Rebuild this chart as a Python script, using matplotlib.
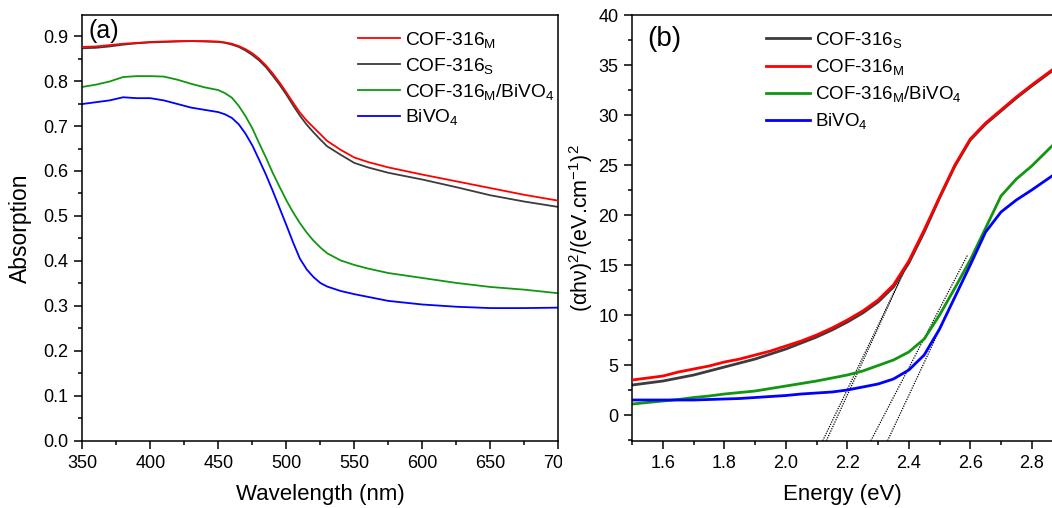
import matplotlib
matplotlib.use("Agg")
import matplotlib.pyplot as plt
from matplotlib.patches import Rectangle
from matplotlib.ticker import MultipleLocator, FormatStrFormatter
import numpy as np

plt.rcParams['font.family'] = ['Liberation Sans', 'DejaVu Sans']
plt.rcParams['mathtext.fontset'] = 'custom'
plt.rcParams['mathtext.rm'] = 'Liberation Sans'
plt.rcParams['mathtext.it'] = 'Liberation Sans:italic'
plt.rcParams['mathtext.bf'] = 'Liberation Sans:bold'

# ---------------- (a) UV-vis absorption spectra ----------------
wavelength = [350, 360, 370, 380, 390, 400, 410, 420, 430, 440, 450, 455, 460, 465,
              470, 475, 480, 485, 490, 495, 500, 505, 510, 515, 520, 525, 530, 540,
              550, 560, 575, 600, 625, 650, 675, 700]
abs_cof_m = [0.876, 0.877, 0.880, 0.883, 0.885, 0.887, 0.888, 0.889, 0.889, 0.889,
             0.888, 0.886, 0.883, 0.878, 0.871, 0.862, 0.850, 0.835, 0.817, 0.797,
             0.775, 0.752, 0.730, 0.712, 0.697, 0.682, 0.667, 0.647, 0.630, 0.620,
             0.608, 0.592, 0.577, 0.562, 0.547, 0.534]
abs_cof_s = [0.873, 0.874, 0.877, 0.881, 0.884, 0.886, 0.887, 0.888, 0.889, 0.888,
             0.887, 0.885, 0.881, 0.876, 0.868, 0.858, 0.846, 0.831, 0.812, 0.792,
             0.770, 0.746, 0.723, 0.703, 0.686, 0.670, 0.655, 0.636, 0.618, 0.608,
             0.596, 0.581, 0.564, 0.546, 0.532, 0.520]
abs_cof_m_bivo4 = [0.787, 0.792, 0.799, 0.809, 0.811, 0.811, 0.810, 0.803, 0.794, 0.786,
                   0.780, 0.773, 0.763, 0.745, 0.722, 0.695, 0.662, 0.630, 0.596, 0.565,
                   0.535, 0.508, 0.484, 0.463, 0.445, 0.430, 0.417, 0.401, 0.391, 0.383,
                   0.373, 0.362, 0.351, 0.342, 0.336, 0.328]
abs_bivo4 = [0.749, 0.753, 0.757, 0.764, 0.762, 0.762, 0.757, 0.749, 0.741, 0.736,
             0.731, 0.726, 0.718, 0.704, 0.683, 0.657, 0.625, 0.592, 0.556, 0.518,
             0.480, 0.441, 0.405, 0.381, 0.364, 0.351, 0.343, 0.333, 0.326, 0.320,
             0.311, 0.303, 0.298, 0.295, 0.295, 0.296]

# ---------------- (b) Tauc plots ----------------
energy = [1.50, 1.55, 1.60, 1.65, 1.70, 1.75, 1.80, 1.85, 1.90, 1.95, 2.00, 2.05, 2.10,
          2.15, 2.20, 2.25, 2.30, 2.35, 2.40, 2.45, 2.50, 2.55, 2.60, 2.65, 2.70, 2.75,
          2.80, 2.866]
tauc_cof_s = [3.0, 3.2, 3.4, 3.7, 4.0, 4.4, 4.8, 5.2, 5.6, 6.1, 6.6, 7.2, 7.8, 8.5, 9.3,
              10.2, 11.3, 12.8, 15.2, 18.3, 21.7, 24.9, 27.5, 29.1, 30.4, 31.7, 32.9, 34.4]
tauc_cof_m = [3.5, 3.7, 3.9, 4.3, 4.6, 4.9, 5.3, 5.6, 6.0, 6.4, 6.9, 7.4, 8.0, 8.7, 9.5,
              10.4, 11.5, 13.0, 15.4, 18.5, 21.8, 25.0, 27.6, 29.2, 30.5, 31.8, 33.0, 34.5]
tauc_cof_m_bivo4 = [1.1, 1.25, 1.4, 1.55, 1.75, 1.9, 2.1, 2.25, 2.4, 2.65, 2.9, 3.15, 3.4,
                    3.7, 4.0, 4.4, 4.95, 5.5, 6.3, 7.6, 10.0, 12.7, 15.5, 18.7, 21.9,
                    23.6, 24.9, 26.9]
tauc_bivo4 = [1.5, 1.5, 1.5, 1.5, 1.5, 1.55, 1.6, 1.65, 1.75, 1.85, 1.95, 2.1, 2.2, 2.3,
              2.5, 2.8, 3.1, 3.6, 4.5, 6.0, 8.6, 11.8, 15.0, 18.3, 20.3, 21.5, 22.5, 23.9]

# Linear extrapolations of the absorption edges: band gap (x-intercept) and slope
gap_energy = [2.16, 2.17, 2.32, 2.37]
gap_slope = [64.0, 67.0, 59.0, 65.6]
gap_top = [16.0, 16.0, 16.0, 16.0]

RED = '#ff0000'
GREY = '#3c3c3c'
GREEN = '#129612'
BLUE = '#0000ff'

W, H = 1052, 508
fig = plt.figure(figsize=(W / 100, H / 100), dpi=100)


def px_axes(x0, x1, ytop, ybot):
    return fig.add_axes([x0 / W, (H - ybot) / H, (x1 - x0) / W, (ybot - ytop) / H])


def style(ax, fs_tick):
    for s in ax.spines.values():
        s.set_linewidth(1.1)
    ax.tick_params(which='both', direction='out', top=False, right=False,
                   labelsize=fs_tick, width=1.1, pad=4)
    ax.tick_params(which='major', length=6)
    ax.tick_params(which='minor', length=3)


# ---- panel (a)
ax1 = px_axes(82.3, 558.3, 15, 440.7)
ax1.plot(wavelength, abs_cof_s, color=GREY, lw=1.3, label='COF-316$_\\mathrm{S}$', zorder=2)
ax1.plot(wavelength, abs_cof_m, color=RED, lw=1.3, label='COF-316$_\\mathrm{M}$', zorder=3)
ax1.plot(wavelength, abs_cof_m_bivo4, color=GREEN, lw=1.3,
         label='COF-316$_\\mathrm{M}$/BiVO$_4$', zorder=2)
ax1.plot(wavelength, abs_bivo4, color=BLUE, lw=1.3, label='BiVO$_4$', zorder=2)
ax1.set_xlim(350, 700)
ax1.set_ylim(0, 0.947)
ax1.xaxis.set_major_locator(MultipleLocator(50))
ax1.xaxis.set_minor_locator(MultipleLocator(25))
ax1.yaxis.set_major_locator(MultipleLocator(0.1))
ax1.yaxis.set_minor_locator(MultipleLocator(0.05))
ax1.yaxis.set_major_formatter(FormatStrFormatter('%.1f'))
style(ax1, 13)
ax1.set_xlabel('Wavelength (nm)', fontsize=16, labelpad=9)
ax1.set_ylabel('Absorption', fontsize=16.5, labelpad=8)
ax1.text(0.012, 0.99, '(a)', transform=ax1.transAxes, fontsize=18, va='top', ha='left')
h1, l1 = ax1.get_legend_handles_labels()
order1 = [1, 0, 2, 3]
ax1.legend([h1[i] for i in order1], [l1[i] for i in order1], loc='upper left',
           bbox_to_anchor=((358 - 82.3) / 476, 1 - (30 - 15) / 425.7), frameon=False,
           fontsize=13.8, handlelength=2.2, handletextpad=0.25, labelspacing=0.3,
           borderpad=0, borderaxespad=0)

# ---- panel (b)
x_right = 2.866
ax2 = px_axes(632.3, 1052, 15, 440.7)
for eg, k, top in zip(gap_energy, gap_slope, gap_top):
    yy = np.array([-2.57, top])
    ax2.plot(eg + yy / k, yy, color='black', lw=0.9, ls=(0, (1, 1)), zorder=1)
ax2.plot(energy, tauc_cof_s, color=GREY, lw=2, label='COF-316$_\\mathrm{S}$', zorder=2)
ax2.plot(energy, tauc_cof_m, color=RED, lw=2, label='COF-316$_\\mathrm{M}$', zorder=3)
ax2.plot(energy, tauc_cof_m_bivo4, color=GREEN, lw=2,
         label='COF-316$_\\mathrm{M}$/BiVO$_4$', zorder=2)
ax2.plot(energy, tauc_bivo4, color=BLUE, lw=2, label='BiVO$_4$', zorder=2)
ax2.set_xlim(1.5, x_right)
ax2.set_ylim(-2.57, 40)
ax2.spines['right'].set_visible(False)
ax2.xaxis.set_major_locator(MultipleLocator(0.2))
ax2.xaxis.set_minor_locator(MultipleLocator(0.1))
ax2.yaxis.set_major_locator(MultipleLocator(5))
ax2.yaxis.set_minor_locator(MultipleLocator(2.5))
ax2.xaxis.set_major_formatter(FormatStrFormatter('%.1f'))
style(ax2, 13)
ax2.set_xlabel('Energy (eV)', fontsize=16, labelpad=9)
ax2.set_ylabel('(αhν)$^{2}$/(eV.cm$^{-1}$)$^{2}$', fontsize=15.5)
ax2.yaxis.set_label_coords((595 - 632.3) / 419.7, 0.5)
ax2.text(0.035, 0.975, '(b)', transform=ax2.transAxes, fontsize=20, va='top', ha='left')
ax2.legend(loc='upper left', bbox_to_anchor=((765.7 - 632.3) / 419.7, 1 - (30 - 15) / 425.7),
           frameon=False, fontsize=13.5, handlelength=2.35, handletextpad=0.3,
           labelspacing=0.38, borderpad=0, borderaxespad=0)

# white gap between the two panels
fig.add_artist(Rectangle((562 / W, (H - 485) / H), 40 / W, 40 / H,
                         transform=fig.transFigure, facecolor='white',
                         edgecolor='none', zorder=5))

fig.savefig('out.png', dpi=100)
